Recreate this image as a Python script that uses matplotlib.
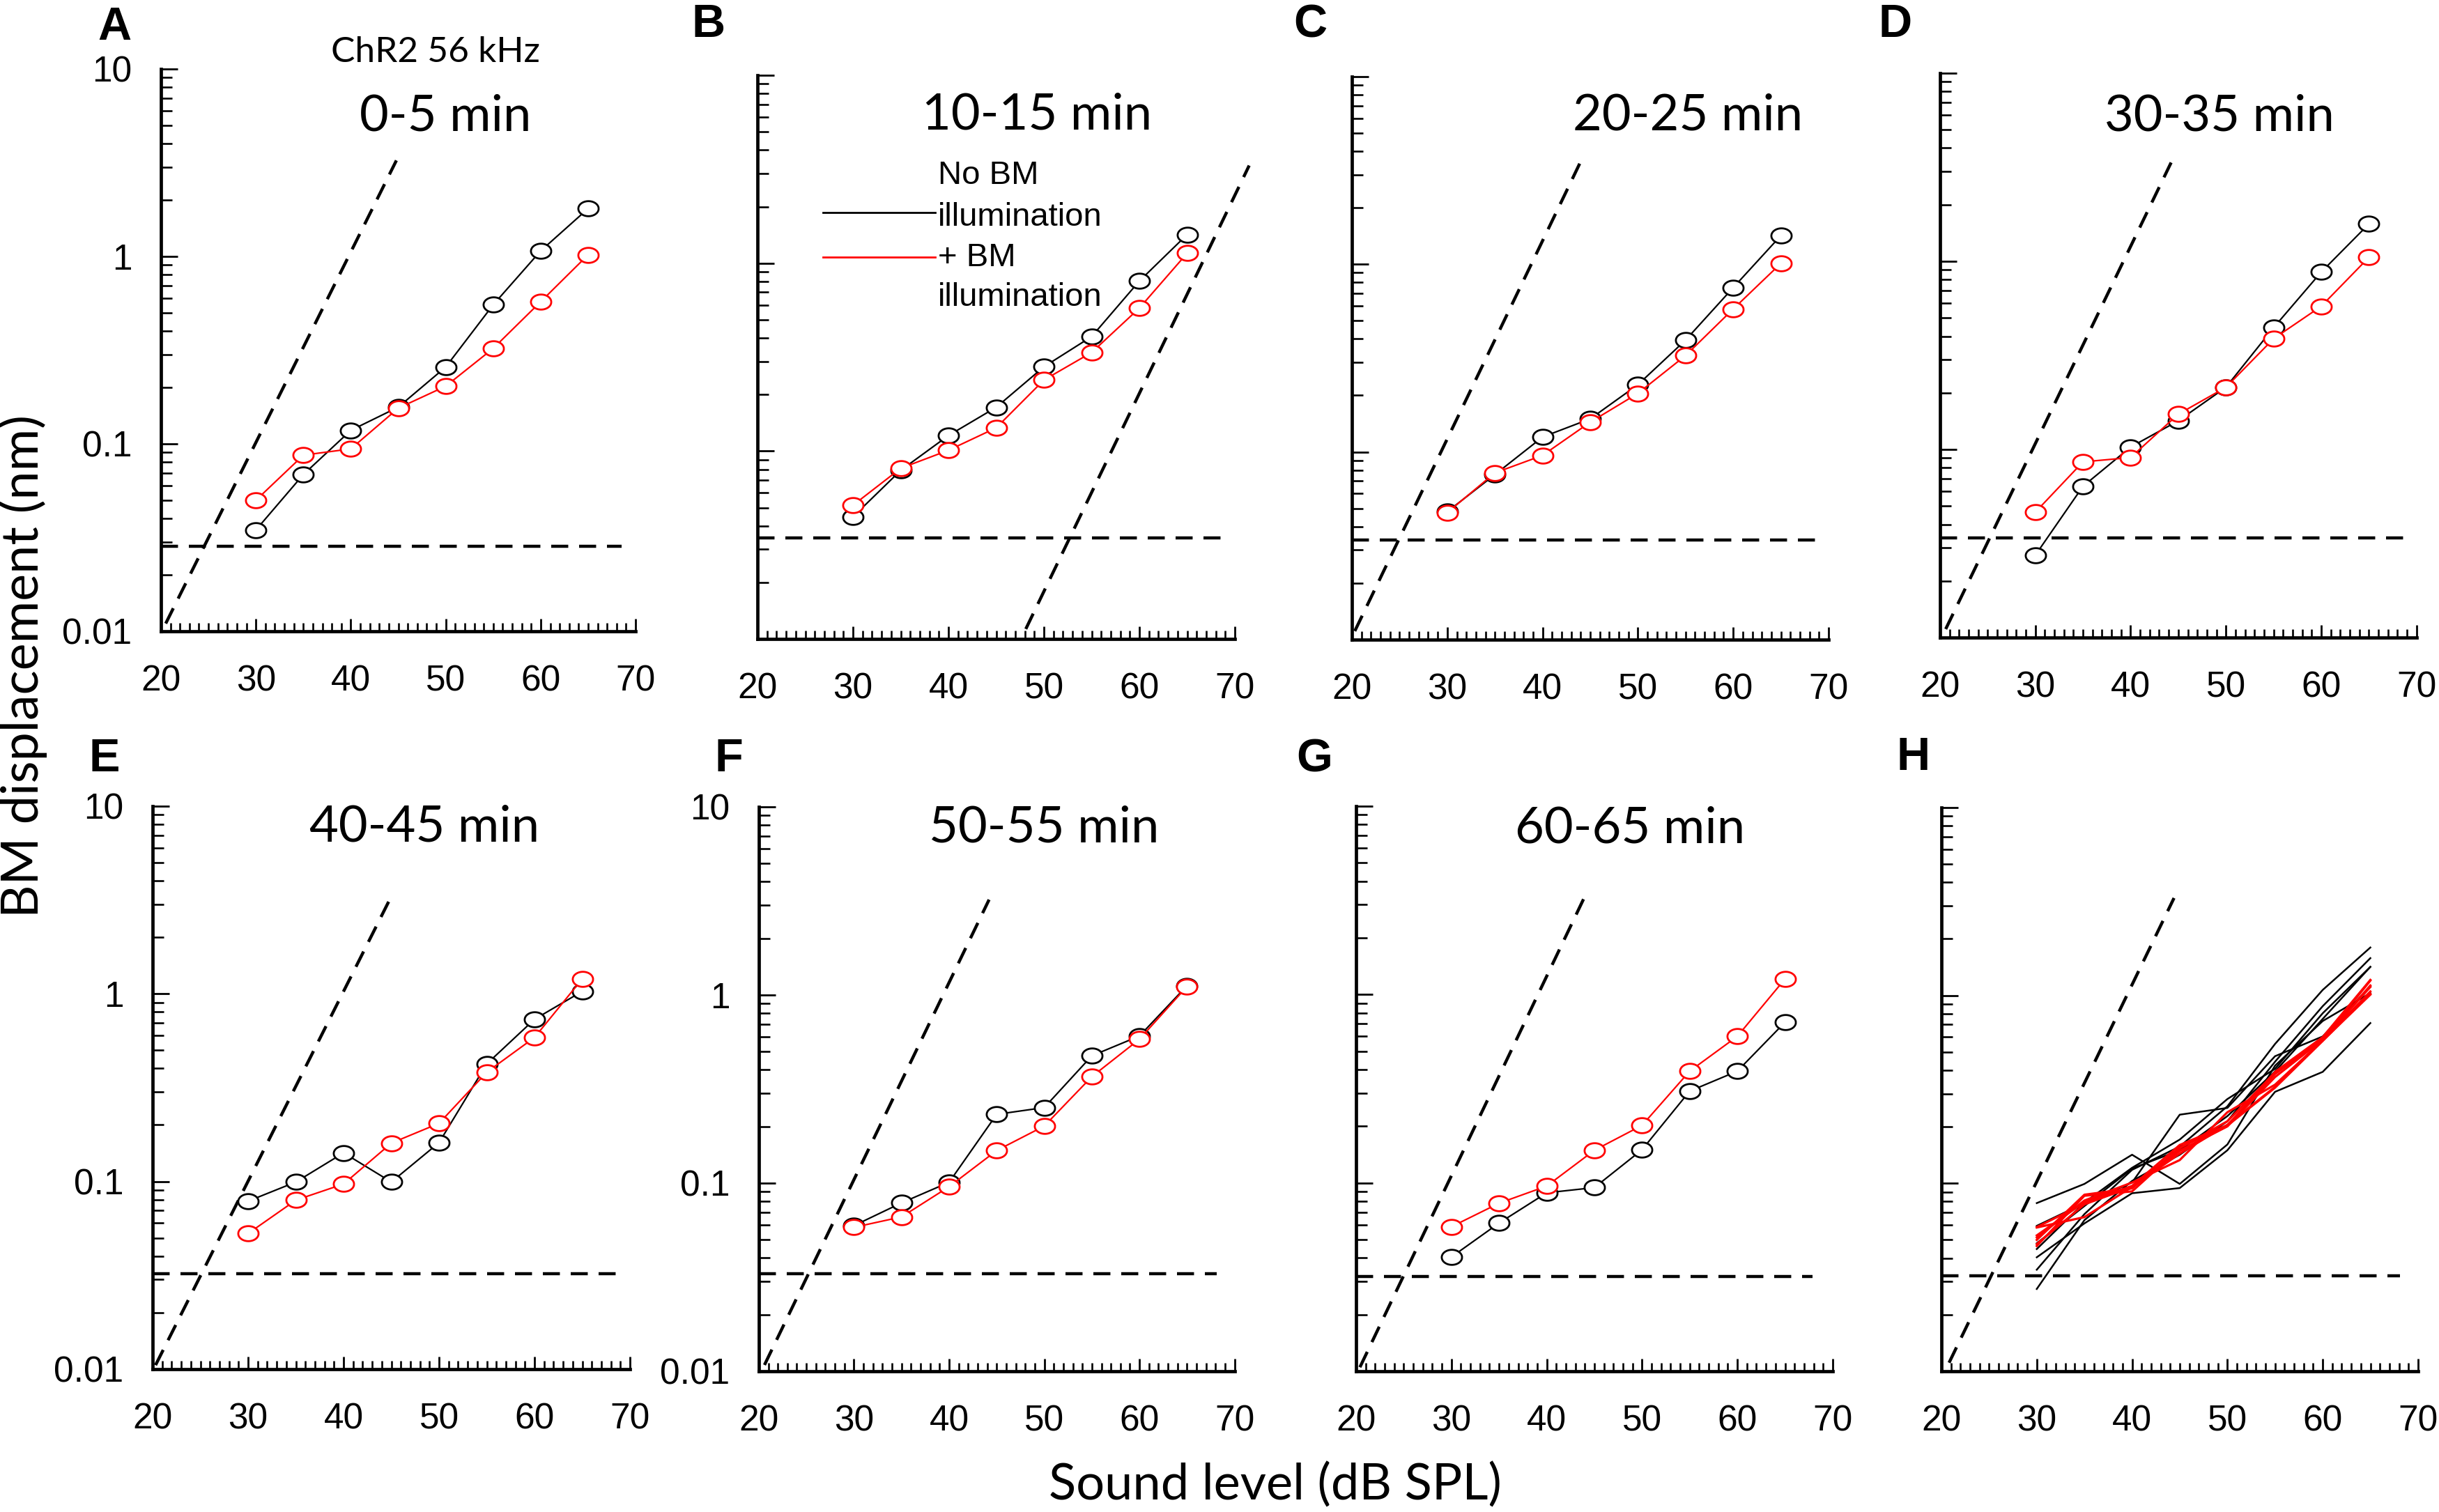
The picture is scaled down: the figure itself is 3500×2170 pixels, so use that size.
import numpy as np
import matplotlib
matplotlib.use('Agg')
import matplotlib.pyplot as plt
from matplotlib.ticker import FixedLocator, LogLocator, NullFormatter, MultipleLocator

# sound levels (dB SPL)
levels = [30, 35, 40, 45, 50, 55, 60, 65]

panel_letters = ['A', 'B', 'C', 'D', 'E', 'F', 'G', 'H']
panel_titles = ['0-5 min', '10-15 min', '20-25 min', '30-35 min',
                '40-45 min', '50-55 min', '60-65 min', '']

# BM displacement (nm), no BM illumination (black)
no_bm_A = [0.0347, 0.0686, 0.118, 0.157, 0.257, 0.552, 1.07, 1.80]
no_bm_B = [0.0447, 0.079, 0.121, 0.171, 0.281, 0.407, 0.804, 1.42]
no_bm_C = [0.048, 0.0757, 0.120, 0.150, 0.228, 0.394, 0.75, 1.42]
no_bm_D = [0.0274, 0.0637, 0.103, 0.142, 0.214, 0.444, 0.877, 1.58]
no_bm_E = [0.0785, 0.0993, 0.142, 0.0993, 0.161, 0.423, 0.731, 1.03]
no_bm_F = [0.0594, 0.0785, 0.101, 0.232, 0.252, 0.475, 0.605, 1.12]
no_bm_G = [0.0404, 0.0612, 0.0886, 0.0944, 0.150, 0.307, 0.392, 0.713]

# BM displacement (nm), + BM illumination (red)
plus_bm_A = [0.050, 0.087, 0.094, 0.155, 0.203, 0.323, 0.573, 1.02]
plus_bm_B = [0.0515, 0.081, 0.101, 0.133, 0.239, 0.335, 0.577, 1.13]
plus_bm_C = [0.0475, 0.0773, 0.0958, 0.144, 0.205, 0.326, 0.577, 1.01]
plus_bm_D = [0.0464, 0.0859, 0.0906, 0.154, 0.214, 0.388, 0.577, 1.05]
plus_bm_E = [0.0528, 0.0795, 0.0969, 0.160, 0.204, 0.382, 0.585, 1.20]
plus_bm_F = [0.0582, 0.0661, 0.0957, 0.149, 0.201, 0.368, 0.582, 1.11]
plus_bm_G = [0.0585, 0.078, 0.0962, 0.149, 0.202, 0.392, 0.60, 1.21]

no_bm = [no_bm_A, no_bm_B, no_bm_C, no_bm_D, no_bm_E, no_bm_F, no_bm_G]
plus_bm = [plus_bm_A, plus_bm_B, plus_bm_C, plus_bm_D, plus_bm_E, plus_bm_F, plus_bm_G]

# noise floor (horizontal dashed line) per panel
noise_floor = [0.0285, 0.0346, 0.034, 0.034, 0.0321, 0.0329, 0.0319, 0.0323]
noise_end = [68.5, 68.7, 68.9, 68.9, 69.5, 68.1, 67.9, 68.1]

# linear-growth reference (sloped dashed line) end points
diag_x0 = [20.5, 48.1, 20.3, 20.6, 20.3, 20.6, 20.4, 20.8]
diag_x1 = [44.8, 71.5, 43.9, 44.25, 45.1, 44.2, 44.0, 44.4]
diag_y0 = [0.011, 0.0113, 0.0111, 0.0111, 0.0105, 0.0108, 0.0105, 0.0111]
diag_y1 = [3.25, 3.31, 3.44, 3.35, 3.38, 3.21, 3.32, 3.3]

# axes boxes in figure fraction [left, bottom, width, height]
boxes = [
    [0.0660, 0.5825, 0.1946, 0.3719],
    [0.3106, 0.5774, 0.1957, 0.3728],
    [0.5543, 0.5770, 0.1954, 0.3724],
    [0.7954, 0.5783, 0.1954, 0.3733],
    [0.0626, 0.0945, 0.1957, 0.3724],
    [0.3111, 0.0931, 0.1951, 0.3733],
    [0.5560, 0.0931, 0.1954, 0.3737],
    [0.7960, 0.0931, 0.1954, 0.3728],
]
title_pos = [(0.60, 0.916), (0.585, 0.93), (0.705, 0.93), (0.586, 0.923),
             (0.569, 0.963), (0.60, 0.963), (0.575, 0.96), (0.5, 0.95)]
letter_pos = [(164, 40), (1017, 36), (1880, 36), (2720, 36),
              (150, 1090), (1046, 1090), (1886, 1090), (2746, 1088)]
ylabel_panels = [0, 4, 5]

W, H = 3500, 2170
fig = plt.figure(figsize=(W / 100, H / 100), dpi=100)

TICKFONT = 'Liberation Sans'
TEXTFONT = 'Lato'

# open markers are drawn a little wider than tall in the original
th = np.linspace(0, 2 * np.pi, 61)
ellipse = np.c_[1.35 * np.cos(th), np.sin(th)]

dash = (5.5, 3.5)

for i, box in enumerate(boxes):
    ax = fig.add_axes(box)
    ax.set_yscale('log')
    ax.set_xlim(20, 70)
    ax.set_ylim(0.01, 10)
    for s in ['top', 'right']:
        ax.spines[s].set_visible(False)
    for s in ['left', 'bottom']:
        ax.spines[s].set_linewidth(3.4)

    ax.xaxis.set_major_locator(MultipleLocator(10))
    ax.xaxis.set_minor_locator(MultipleLocator(1))
    ax.yaxis.set_major_locator(FixedLocator([0.01, 0.1, 1, 10]))
    ax.yaxis.set_minor_locator(LogLocator(base=10, subs=np.arange(2, 10)))
    ax.yaxis.set_minor_formatter(NullFormatter())
    ax.set_xticks([20, 30, 40, 50, 60, 70])
    ax.set_xticklabels(['20', '30', '40', '50', '60', '70'])
    ax.set_yticks([0.01, 0.1, 1, 10])
    if i in ylabel_panels:
        ax.set_yticklabels(['0.01', '0.1', '1', '10'])
    else:
        ax.set_yticklabels([])
    ax.tick_params(axis='x', which='major', direction='in', length=13, width=2.0, pad=34,
                   labelsize=37)
    ax.tick_params(axis='x', which='minor', direction='in', length=8.5, width=1.9)
    ax.tick_params(axis='y', which='major', direction='in', length=17, width=2.0, pad=30,
                   labelsize=37)
    ax.tick_params(axis='y', which='minor', direction='in', length=11.5, width=1.9)
    for lab in ax.get_xticklabels() + ax.get_yticklabels():
        lab.set_fontfamily(TICKFONT)

    # reference dashed lines
    ax.plot([20, noise_end[i]], [noise_floor[i], noise_floor[i]], color='black',
            lw=3.2, dashes=dash, clip_on=False)
    ax.plot([diag_x0[i], diag_x1[i]], [diag_y0[i], diag_y1[i]], color='black',
            lw=3.2, dashes=dash, clip_on=False)

    if i < 7:
        ax.plot(levels, no_bm[i], color='black', lw=1.6, marker=ellipse, ms=21,
                mfc='white', mec='black', mew=2.0, clip_on=False, zorder=3)
        ax.plot(levels, plus_bm[i], color='red', lw=1.6, marker=ellipse, ms=21,
                mfc='white', mec='red', mew=2.0, clip_on=False, zorder=4)
    else:
        # summary: all epochs overlaid
        for k in range(7):
            ax.plot(levels, no_bm[k], color='black', lw=1.8, zorder=3)
        for k in range(7):
            ax.plot(levels, plus_bm[k], color='red', lw=2.3, zorder=4)

    if panel_titles[i]:
        ax.text(title_pos[i][0], title_pos[i][1], panel_titles[i], transform=ax.transAxes,
                ha='center', va='center', fontsize=52, family=TEXTFONT)

    fig.text(letter_pos[i][0] / W, 1 - letter_pos[i][1] / H, panel_letters[i],
             ha='center', va='center', fontsize=48, fontweight='bold', family=TICKFONT)

    if i == 1:
        ax.plot([0.137, 0.372], [0.757, 0.757], color='black', lw=2.0, transform=ax.transAxes)
        ax.plot([0.137, 0.372], [0.677, 0.677], color='red', lw=2.0, transform=ax.transAxes)
        for txt, yy in [('No BM', 0.822), ('illumination', 0.748),
                        ('+ BM', 0.676), ('illumination', 0.606)]:
            ax.text(0.378, yy, txt, transform=ax.transAxes, ha='left', va='center',
                    fontsize=34, family=TICKFONT)

fig.text(625 / W, 1 - 75 / H, 'ChR2 56 kHz', ha='center', va='center',
         fontsize=37, family=TEXTFONT)
fig.text(33 / W, 1 - 956 / H, 'BM displacement (nm)', rotation=90, ha='center',
         va='center', fontsize=53, family=TEXTFONT)
fig.text(1830 / W, 1 - 2131 / H, 'Sound level (dB SPL)', ha='center', va='center',
         fontsize=52, family=TEXTFONT)

fig.savefig('out.png', dpi=100, facecolor='white')
